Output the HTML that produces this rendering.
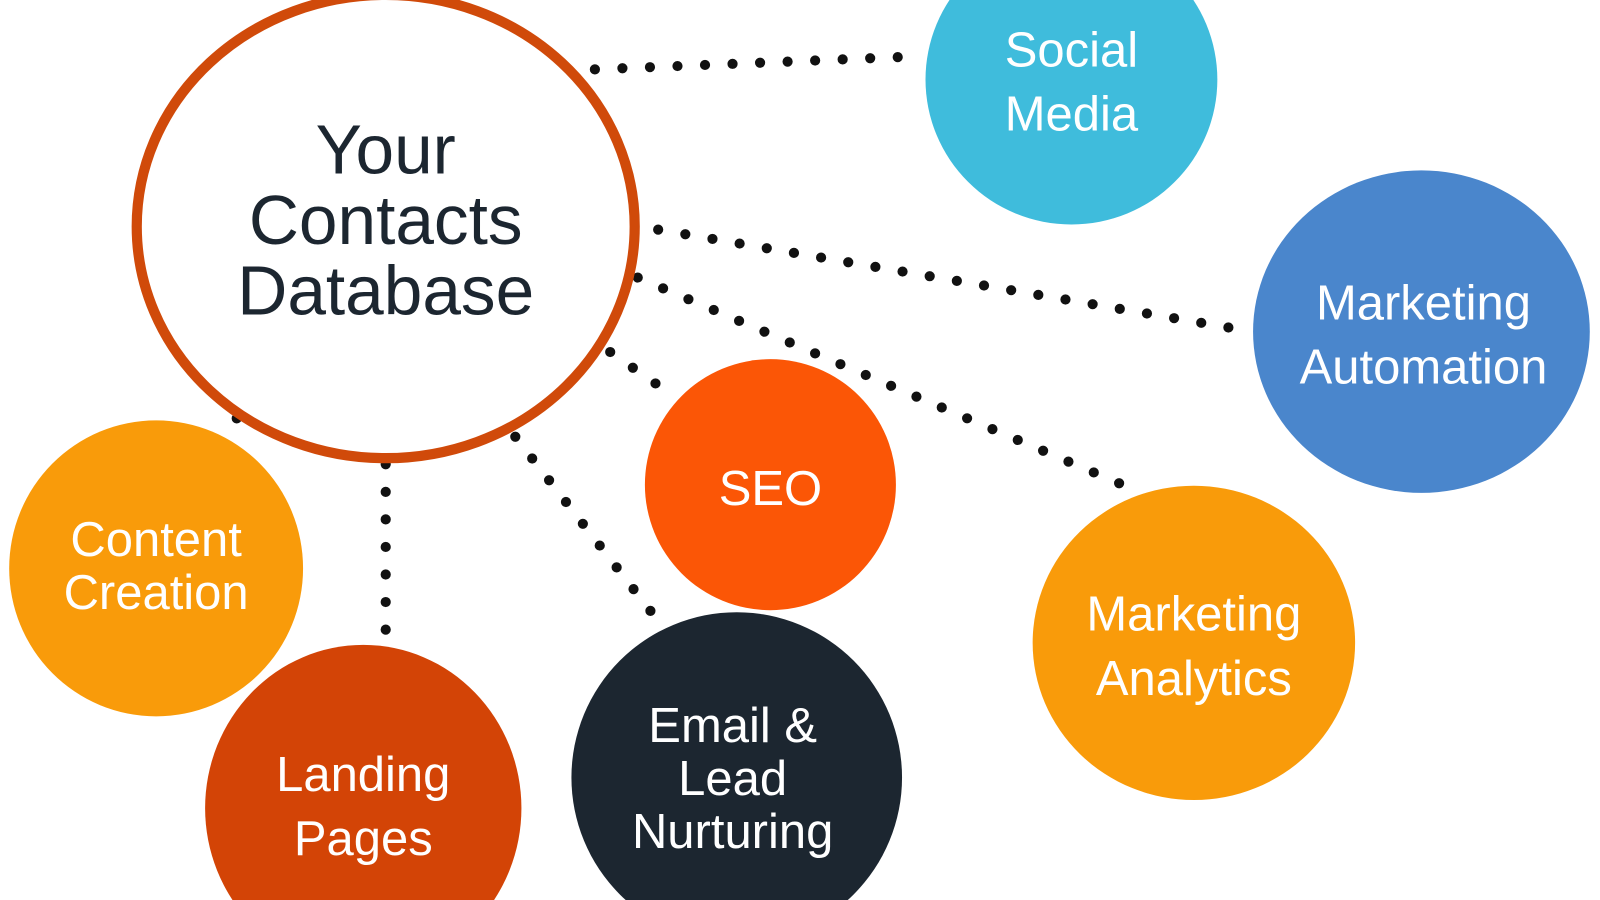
<!DOCTYPE html>
<html><head><meta charset="utf-8"><style>
html,body{margin:0;padding:0;background:#fff;width:1600px;height:900px;overflow:hidden}
svg{display:block}
text{font-family:"Liberation Sans",sans-serif;text-anchor:middle}
</style></head><body>
<svg width="1600" height="900" viewBox="0 0 1568 882" preserveAspectRatio="none">
<g stroke="#111" stroke-width="10" stroke-linecap="round" stroke-dasharray="0 27" fill="none">
<line x1="583" y1="68" x2="905" y2="55"/>
<line x1="645" y1="225" x2="1210" y2="322"/>
<line x1="625" y1="272" x2="1100" y2="475"/>
<line x1="598" y1="345" x2="660" y2="388"/>
<line x1="505" y1="428" x2="640" y2="602"/>
<line x1="378" y1="455" x2="378" y2="618"/>
<line x1="232" y1="410" x2="232" y2="411"/>
</g>
<ellipse cx="378" cy="222" rx="244" ry="227" fill="#fff" stroke="#d04a0a" stroke-width="10"/>
<ellipse cx="1050" cy="78" rx="143" ry="142" fill="#3fbcdc"/>
<ellipse cx="1393" cy="325" rx="165" ry="158" fill="#4a86cc"/>
<ellipse cx="755" cy="475" rx="123" ry="123" fill="#fb5606"/>
<ellipse cx="1170" cy="630" rx="158" ry="154" fill="#f99b0a"/>
<ellipse cx="153" cy="557" rx="144" ry="145" fill="#f99b0a"/>
<ellipse cx="356" cy="792" rx="155" ry="160" fill="#d34406"/>
<ellipse cx="722" cy="762" rx="162" ry="162" fill="#1c2630"/>
<g fill="#1c2630" font-size="68">
<text x="378" y="170">Your</text>
<text x="378" y="239">Contacts</text>
<text x="378" y="308">Database</text>
</g>
<g fill="#fff" font-size="48">
<text x="1050" y="65">Social</text>
<text x="1050" y="128">Media</text>
<text x="1395" y="313">Marketing</text>
<text x="1395" y="376">Automation</text>
<text x="755" y="495">SEO</text>
<text x="1170" y="618">Marketing</text>
<text x="1170" y="681">Analytics</text>
<text x="153" y="545">Content</text>
<text x="153" y="597">Creation</text>
<text x="356" y="775">Landing</text>
<text x="356" y="838">Pages</text>
<text x="718" y="727">Email &amp;</text>
<text x="718" y="779">Lead</text>
<text x="718" y="831">Nurturing</text>
</g>
</svg>
</body></html>
